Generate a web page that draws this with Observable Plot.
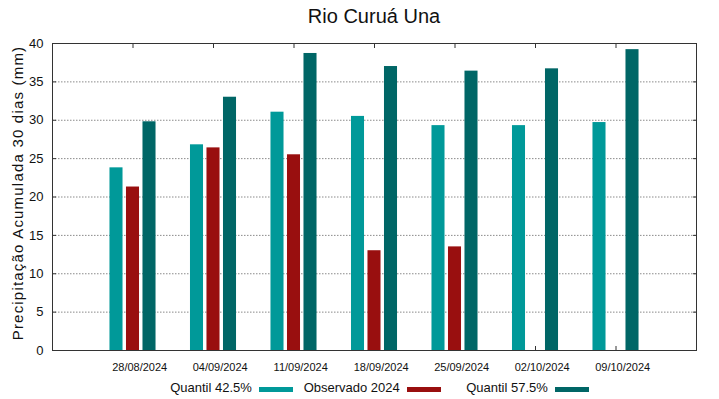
<!DOCTYPE html>
<html>
<head>
<meta charset="utf-8">
<script src="https://cdn.jsdelivr.net/npm/d3@7"></script>
<script src="https://cdn.jsdelivr.net/npm/@observablehq/plot@0.6"></script>
<style>
  html, body { margin: 0; padding: 0; background: #fff; }
  body { width: 719px; height: 399px; overflow: hidden; font-family: "Liberation Sans", Arial, sans-serif; color: #111; }
  #title { height: 35px; box-sizing: border-box; padding-top: 6px; margin-left: 29px; width: 690px; text-align: center; font-size: 20px; line-height: 20px; }
  #legend { position: relative; height: 24px; }
  .item { position: absolute; top: 6px; width: 148px; height: 14px; display: flex; justify-content: flex-end; align-items: flex-start; font-size: 13px; line-height: 13px; }
  .sw { display: inline-block; width: 34px; height: 5px; margin-left: 7px; margin-top: 6px; }
</style>
</head>
<body>
<div id="title">Rio Curuá Una</div>
<div id="chart"></div>
<div id="legend"></div>
<script>
const dates = ["28/08/2024", "04/09/2024", "11/09/2024", "18/09/2024", "25/09/2024", "02/10/2024", "09/10/2024"];
const quantil425 = [23.8, 26.8, 31.05, 30.5, 29.3, 29.3, 29.7];
const observado2024 = [21.3, 26.4, 25.5, 13.0, 13.5, null, null];
const quantil575 = [29.8, 33.0, 38.7, 37.0, 36.4, 36.7, 39.2];
const seriesNames = ["Quantil 42.5%", "Observado 2024", "Quantil 57.5%"];
const seriesColors = ["#009999", "#990f0f", "#006666"];
const yTicks = [0, 5, 10, 15, 20, 25, 30, 35, 40];
const gridTicks = [5, 10, 15, 20, 25, 30, 35];
const yLabel = "Precipitação Acumulada 30 dias (mm)";

const rows = [];
[quantil425, observado2024, quantil575].forEach((vals, s) =>
  vals.forEach((v, i) => { if (v != null) rows.push({i, s, v, name: seriesNames[s]}); }));

const step = 0.205, half = 0.081;
const idx = d3.range(dates.length);

const chart = Plot.plot({
  width: 719, height: 340,
  marginLeft: 52, marginRight: 23, marginTop: 8, marginBottom: 25,
  style: {fontFamily: "'Liberation Sans', Arial, sans-serif", color: "#111", background: "#fff"},
  x: {type: "linear", domain: [-1, 7], label: null},
  y: {domain: [0, 40], label: null},
  color: {domain: seriesNames, range: seriesColors},
  marks: [
    Plot.gridY(gridTicks, {stroke: "#8a8a8a", strokeOpacity: 1, strokeDasharray: "1.5,1.5"}),
    Plot.axisX({anchor: "bottom", ticks: idx, tickSize: -4, fill: "none", stroke: "#333", label: null, tickFormat: () => ""}),
    Plot.rectY(rows, {
      x1: d => d.i + (d.s - 1) * step - half,
      x2: d => d.i + (d.s - 1) * step + half,
      y1: 0, y2: "v", fill: "name"
    }),
    Plot.axisX({anchor: "top", ticks: idx, tickSize: -4, fill: "none", stroke: "#333", label: null, tickFormat: () => ""}),
    Plot.axisY({anchor: "right", ticks: yTicks, tickSize: -4, fill: "none", stroke: "#333", label: null, tickFormat: () => ""}),
    Plot.axisY({anchor: "left", ticks: yTicks, tickSize: -4, fill: "none", stroke: "#333", label: null, tickFormat: () => ""}),
    Plot.frame({stroke: "#333"}),
    Plot.axisY({anchor: "left", ticks: yTicks, tickSize: 0, tickPadding: 9, fontSize: 13, fill: "#111", label: null}),
    Plot.axisX({anchor: "bottom", ticks: idx, tickSize: 0, tickPadding: 13, dx: 6.7, fontSize: 11, fill: "#111", label: null, tickFormat: i => dates[i]}),
    Plot.text([yLabel], {frameAnchor: "left", textAnchor: "middle", dx: -34.5, dy: -4, rotate: -90, fontSize: 15, fill: "#111"})
  ]
});
document.getElementById("chart").appendChild(chart);
chart.querySelectorAll("text").forEach(t => {
  if (t.textContent === yLabel) t.style.letterSpacing = "1.2px";
});

const legend = document.getElementById("legend");
seriesNames.forEach((n, k) => {
  const item = document.createElement("div");
  item.className = "item";
  item.style.left = (144.8 + 148 * k) + "px";
  const span = document.createElement("span");
  span.textContent = n;
  const sw = document.createElement("span");
  sw.className = "sw";
  sw.style.background = seriesColors[k];
  item.appendChild(span);
  item.appendChild(sw);
  legend.appendChild(item);
});
</script>
</body>
</html>
